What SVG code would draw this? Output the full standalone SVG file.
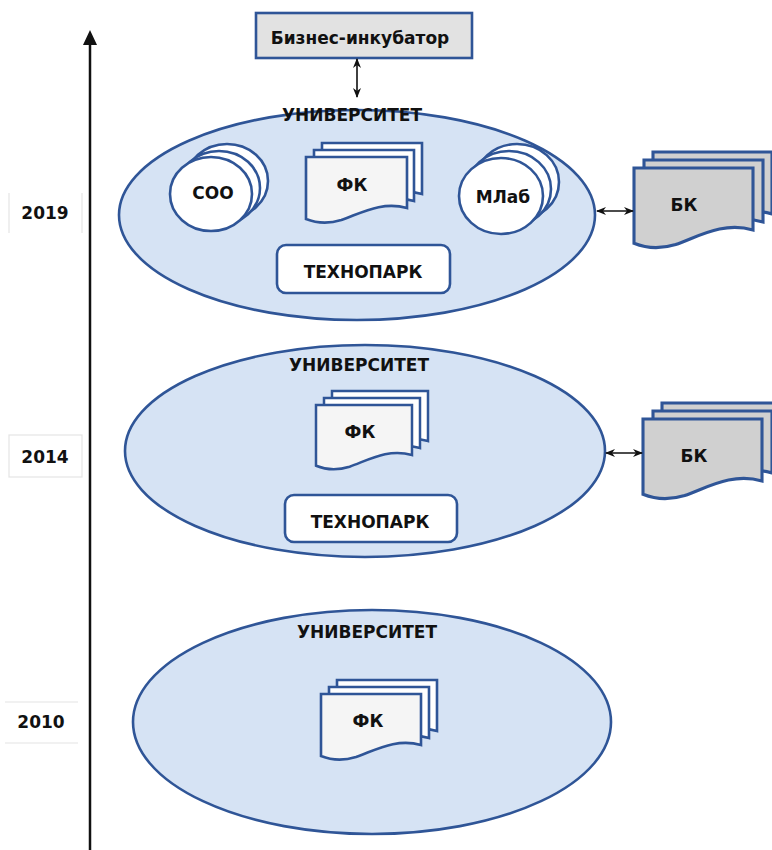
<svg xmlns="http://www.w3.org/2000/svg" xmlns:xlink="http://www.w3.org/1999/xlink" width="772" height="850" viewBox="0 0 772 850">
<style>
text{font-family:"DejaVu Sans","Liberation Sans",sans-serif;font-weight:bold;font-size:17px;fill:#111;text-anchor:middle;dominant-baseline:central}
.uni{fill:#d6e3f4;stroke:#2f5597;stroke-width:2.6}
.doc{fill:#ffffff;stroke:#2f5597;stroke-width:2.6;vector-effect:non-scaling-stroke}
.docf{fill:#f5f5f5;stroke:#2f5597;stroke-width:2.6;vector-effect:non-scaling-stroke}
.bk{fill:#d0d0d0;stroke:#2f5597;stroke-width:2.6;vector-effect:non-scaling-stroke}
.circ{fill:#ffffff;stroke:#2f5597;stroke-width:2.6}
.box{fill:#ffffff;stroke:#2f5597;stroke-width:2.6}
.yr{stroke:#e4e4e4;stroke-width:1.2;fill:none}
.conn{stroke:#111;stroke-width:1.6;fill:none;marker-start:url(#ah);marker-end:url(#ah)}
</style>
<defs>
<path id="docp" d="M0,0 H100 V51 C75,44 55,56 35,63 C22,67 10,66 0,62 Z"/>
<marker id="ah" viewBox="0 0 10 8" refX="9" refY="4" markerWidth="10" markerHeight="8" orient="auto-start-reverse" markerUnits="userSpaceOnUse">
<path d="M0,0 L10,4 L0,8 L3,4 Z" fill="#111"/>
</marker>
</defs>

<g id="axis">
<line x1="90" y1="44" x2="90" y2="850" stroke="#111" stroke-width="2.5"/>
<polygon points="90,30 83,45 97,45" fill="#111"/>
</g>

<g id="year-2019">
<line class="yr" x1="9" y1="193" x2="9" y2="233"/>
<line class="yr" x1="82" y1="193" x2="82" y2="233"/>
<text x="45" y="213">2019</text>
</g>
<g id="year-2014">
<rect class="yr" x="9" y="435" width="73" height="42"/>
<text x="45" y="457">2014</text>
</g>
<g id="year-2010">
<line class="yr" x1="5" y1="702" x2="78" y2="702"/>
<line class="yr" x1="5" y1="743" x2="78" y2="743"/>
<text x="41" y="722">2010</text>
</g>

<g id="incubator">
<rect x="256" y="13" width="216" height="45" fill="#e2e2e2" stroke="#2f5597" stroke-width="2.6"/>
<text x="360" y="38">Бизнес-инкубатор</text>
</g>

<g id="uni-2019">
<ellipse class="uni" cx="357" cy="215" rx="238" ry="105"/>
<text x="352" y="115">УНИВЕРСИТЕТ</text>
</g>
<g id="coo">
<ellipse class="circ" cx="227" cy="181" rx="41" ry="37"/>
<ellipse class="circ" cx="219" cy="188" rx="41" ry="37"/>
<ellipse class="circ" cx="211" cy="194" rx="41" ry="37"/>
<text x="213" y="193">СОО</text>
</g>
<g id="fk-2019">
<use href="#docp" class="doc" transform="translate(322,143)"/>
<use href="#docp" class="doc" transform="translate(314,150)"/>
<use href="#docp" class="docf" transform="translate(306,157) scale(1.01,1)"/>
<text x="352" y="185">ФК</text>
</g>
<g id="mlab">
<ellipse class="circ" cx="517" cy="182" rx="42" ry="38"/>
<ellipse class="circ" cx="509" cy="189" rx="42" ry="38"/>
<ellipse class="circ" cx="501" cy="196" rx="42" ry="38"/>
<text x="503" y="197">МЛаб</text>
</g>
<g id="technopark-2019">
<rect class="box" x="277" y="245" width="173" height="48" rx="9"/>
<text x="363" y="272">ТЕХНОПАРК</text>
</g>
<g id="bk-2019">
<use href="#docp" class="bk" transform="translate(653,152) scale(1.19,1.215)"/>
<use href="#docp" class="bk" transform="translate(644,160) scale(1.19,1.215)"/>
<use href="#docp" class="bk" transform="translate(634,168) scale(1.19,1.215)"/>
<text x="684" y="205">БК</text>
</g>

<g id="uni-2014">
<ellipse class="uni" cx="365" cy="451" rx="240" ry="106"/>
<text x="359" y="365">УНИВЕРСИТЕТ</text>
</g>
<g id="fk-2014">
<use href="#docp" class="doc" transform="translate(332,391) scale(0.96,0.98)"/>
<use href="#docp" class="doc" transform="translate(324,398) scale(0.96,0.98)"/>
<use href="#docp" class="docf" transform="translate(316,405) scale(0.96,0.98)"/>
<text x="360" y="432">ФК</text>
</g>
<g id="technopark-2014">
<rect class="box" x="285" y="495" width="172" height="47" rx="9"/>
<text x="370" y="522">ТЕХНОПАРК</text>
</g>
<g id="bk-2014">
<use href="#docp" class="bk" transform="translate(662,403) scale(1.19,1.215)"/>
<use href="#docp" class="bk" transform="translate(653,411) scale(1.19,1.215)"/>
<use href="#docp" class="bk" transform="translate(643,419) scale(1.19,1.215)"/>
<text x="694" y="456">БК</text>
</g>

<g id="uni-2010">
<ellipse class="uni" cx="372" cy="722" rx="239" ry="112"/>
<text x="367" y="632">УНИВЕРСИТЕТ</text>
</g>
<g id="fk-2010">
<use href="#docp" class="doc" transform="translate(337,680)"/>
<use href="#docp" class="doc" transform="translate(329,687)"/>
<use href="#docp" class="docf" transform="translate(321,694)"/>
<text x="368" y="721">ФК</text>
</g>

<g id="connectors">
<line class="conn" x1="357" y1="59" x2="357" y2="97"/>
<line class="conn" x1="597" y1="211" x2="633" y2="211"/>
<line class="conn" x1="606" y1="453" x2="642" y2="453"/>
</g>
</svg>
